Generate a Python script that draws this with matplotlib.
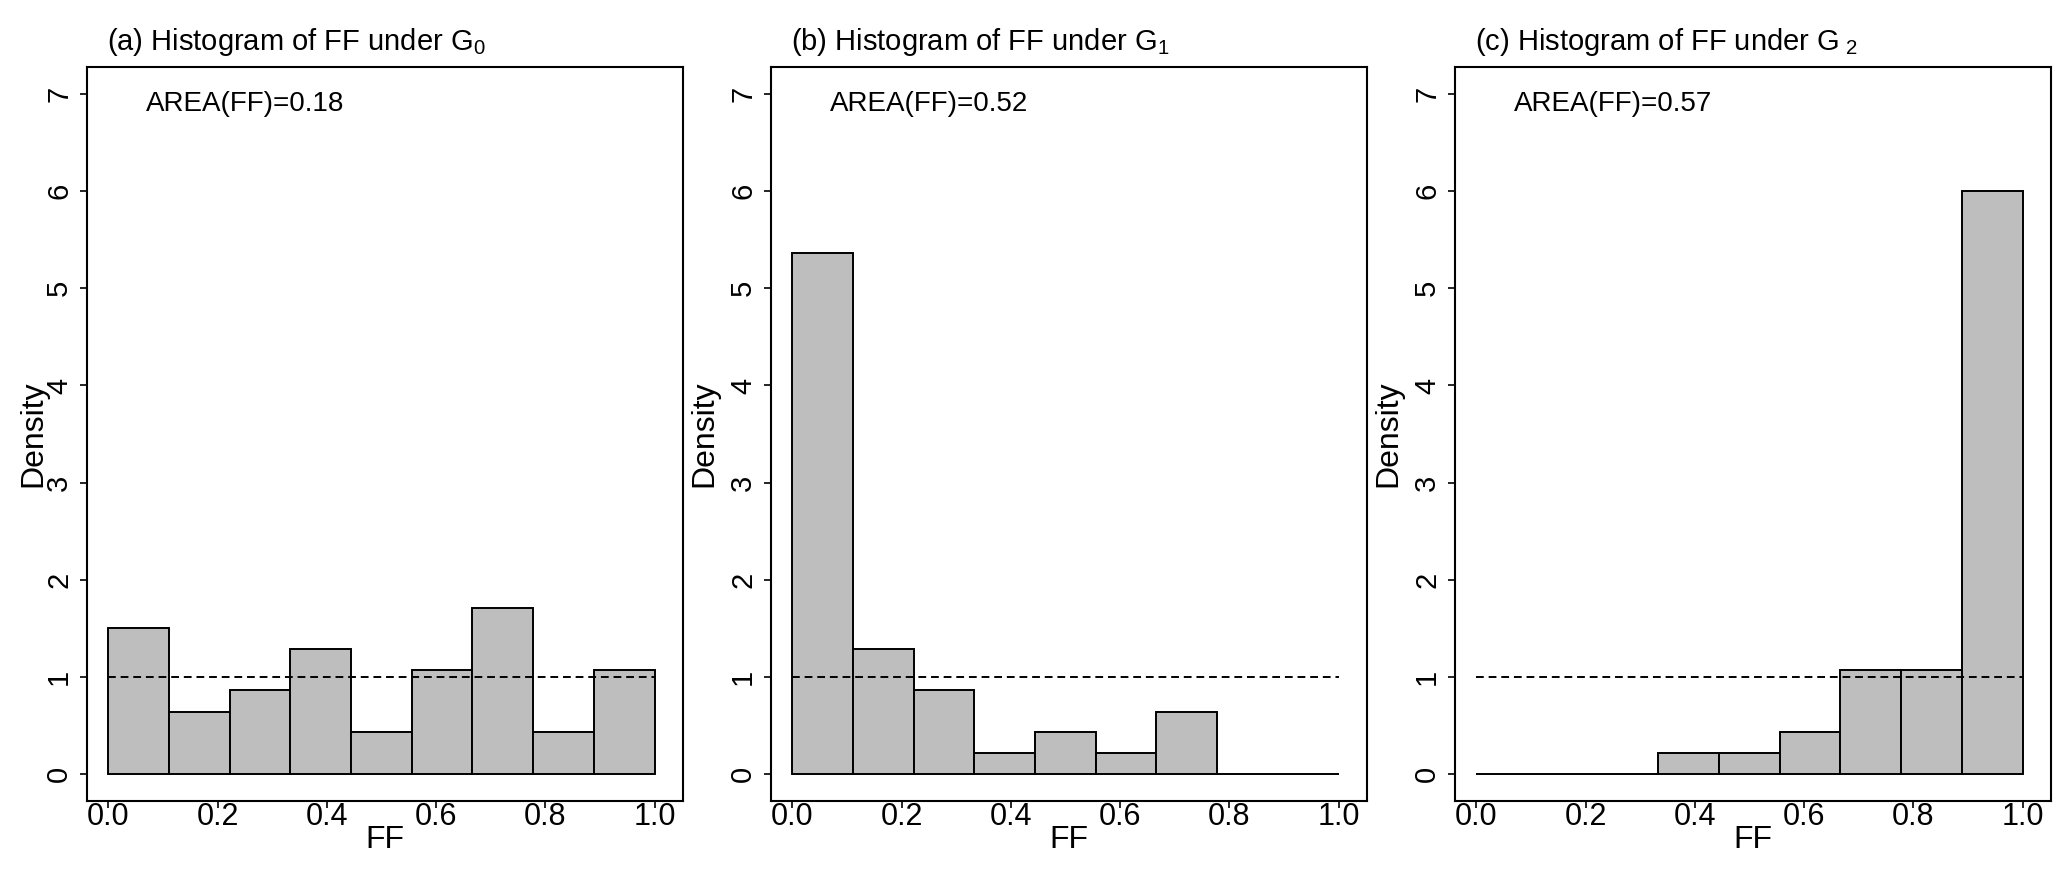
import numpy as np
import matplotlib
matplotlib.use('Agg')
import matplotlib.pyplot as plt

plt.rcParams['font.family'] = ['Liberation Sans', 'DejaVu Sans']
plt.rcParams['mathtext.fontset'] = 'custom'
plt.rcParams['mathtext.rm'] = 'Liberation Sans'
plt.rcParams['mathtext.it'] = 'Liberation Sans:italic'

# histogram densities, 9 equal bins on [0, 1]
bin_edges = np.linspace(0, 1, 10)
density_g0 = [1.50, 0.64, 0.86, 1.29, 0.43, 1.07, 1.71, 0.43, 1.07]
density_g1 = [5.36, 1.29, 0.86, 0.21, 0.43, 0.21, 0.64, 0.0, 0.0]
density_g2 = [0.0, 0.0, 0.0, 0.21, 0.21, 0.43, 1.07, 1.07, 6.00]

titles = [r'(a) Histogram of FF under G$_\mathrm{0}$',
          r'(b) Histogram of FF under G$_\mathrm{1}$',
          r'(c) Histogram of FF under G$_{\ \mathrm{2}}$']
area_labels = ['AREA(FF)=0.18', 'AREA(FF)=0.52', 'AREA(FF)=0.57']
all_density = [density_g0, density_g1, density_g2]

x_ticks = [0.0, 0.2, 0.4, 0.6, 0.8, 1.0]
y_ticks = [0, 1, 2, 3, 4, 5, 6, 7]

W, H = 2067, 871
fig = plt.figure(figsize=(W / 100, H / 100), dpi=100)

lefts = [87, 771, 1455]
ylab_x = [-0.090, -0.111, -0.111]
box_w = 596
box_top, box_bot = 67, 801

for i in range(3):
    ax = fig.add_axes([lefts[i] / W, (H - box_bot) / H, box_w / W, (box_bot - box_top) / H])
    widths = np.diff(bin_edges)
    ax.bar(bin_edges[:-1], all_density[i], width=widths, align='edge',
           color='#bebebe', edgecolor='black', linewidth=1.4)
    # reference line at density 1 (uniform)
    ax.plot([0, 1], [1, 1], color='black', linestyle=(0, (4, 2.5)), linewidth=1.4)

    ax.set_xlim(-0.039, 1.052)
    ax.set_ylim(-0.28, 7.28)
    ax.set_xticks(x_ticks)
    ax.set_xticklabels([f'{t:.1f}' for t in x_ticks])
    ax.set_yticks(y_ticks)
    ax.set_yticklabels([str(t) for t in y_ticks])

    ax.tick_params(axis='x', direction='out', length=5, width=1.2, pad=-4.5,
                   labelsize=22)
    ax.tick_params(axis='y', direction='out', length=5, width=1.2, pad=5,
                   labelsize=21, labelrotation=90)
    for lab in ax.get_yticklabels():
        lab.set_verticalalignment('center')

    for s in ax.spines.values():
        s.set_linewidth(1.5)

    ax.set_xlabel('FF', fontsize=23)
    ax.xaxis.set_label_coords(0.5, -0.033)
    ax.set_ylabel('Density', fontsize=23, va='center')
    ax.yaxis.set_label_coords(ylab_x[i], 0.5)

    ax.text(0.033, 1.023, titles[i], transform=ax.transAxes, ha='left',
            va='baseline', fontsize=21)
    ax.text(0.25, 6.9, area_labels[i], ha='center', va='center', fontsize=20)

fig.savefig('out.png', dpi=100)
